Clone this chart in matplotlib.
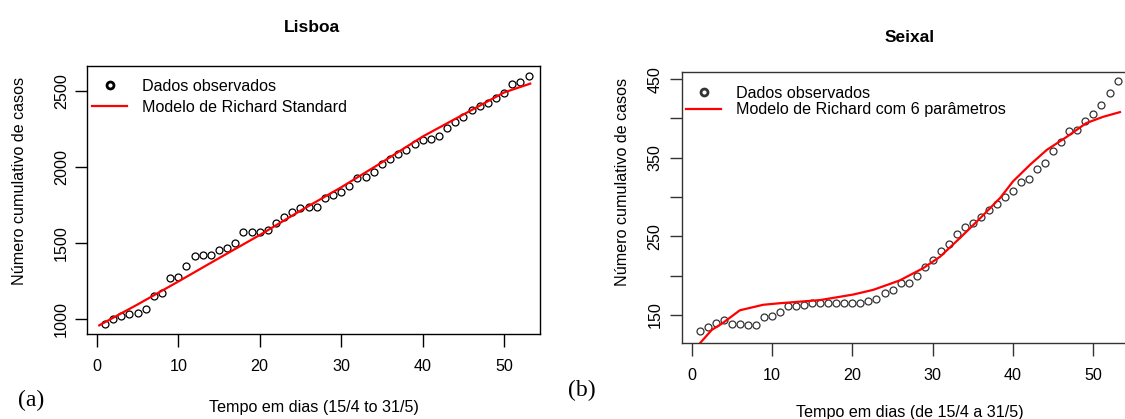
import matplotlib
matplotlib.use("Agg")
import matplotlib.pyplot as plt
from matplotlib.ticker import FixedLocator, FixedFormatter

plt.rcParams['font.family'] = ['Liberation Sans', 'DejaVu Sans']

# Lisboa: observed cumulative cases per day
dias_lx = list(range(1, 54))
obs_lx = [965, 1002, 1022, 1035, 1040, 1064, 1151, 1173, 1268, 1274,
          1351, 1412, 1419, 1419, 1452, 1465, 1502, 1570, 1570, 1570,
          1583, 1629, 1673, 1706, 1728, 1739, 1739, 1794, 1816, 1838,
          1877, 1925, 1936, 1967, 2020, 2050, 2083, 2110, 2151, 2178,
          2182, 2206, 2254, 2294, 2331, 2373, 2404, 2419, 2452, 2487,
          2544, 2557, 2599]
# Richard standard model (read at a few days)
mod_lx_t = [0.3, 5, 10, 15, 20, 25, 30, 35, 40, 45, 50, 53.2]
mod_lx_y = [958, 1095, 1246, 1400, 1552, 1712, 1866, 2030, 2200, 2345, 2490, 2548]

# Seixal
dias_sx = list(range(1, 54))
obs_sx = [130, 135, 140, 144, 138, 139, 137, 137, 148, 148.5,
          154, 161, 162, 163, 165, 165, 165, 165, 165, 165,
          165, 167.5, 170, 178, 182, 191, 191, 199, 211, 220,
          232, 240, 253, 262, 267, 275, 283, 291, 300, 307.5,
          318.5, 323, 335.5, 343, 359, 369.4, 384.3, 385, 397, 405,
          417, 432.6, 447]
mod_sx_t = [0.5, 2.5, 3.9, 6, 8.9, 11, 16, 20.1, 22.6, 25.9, 28.8, 30.9,
            33.4, 35.9, 38.4, 40, 42.1, 44.2, 46.6, 49.1, 51.2, 53.3]
mod_sx_y = [108, 131, 140, 156, 163, 165, 169, 176, 182, 194, 209.5, 224,
            248, 273, 299, 320, 341, 360, 376, 394, 402, 408]

W, H = 1125, 419
FS = 11.6
fig = plt.figure(figsize=(W / 100, H / 100), dpi=100)


def box(l, t, r, b):
    return [l / W, 1 - b / H, (r - l) / W, (b - t) / H]


def style(ax, col, ypad):
    for s in ax.spines.values():
        s.set_color(col)
        s.set_linewidth(1.0)
    ax.tick_params(direction='out', length=9, width=1.0, color=col,
                   labelsize=FS)
    ax.tick_params(axis='x', pad=9)
    ax.tick_params(axis='y', pad=ypad)
    for lab in ax.get_yticklabels():
        lab.set_rotation(90)
        lab.set_va('center')


# (a) Lisboa
ax1 = fig.add_axes(box(87, 66, 540, 334))
ax1.plot(dias_lx, obs_lx, 'o', mfc='none', mec='black', ms=5, mew=0.9,
         label='Dados observados')
ax1.plot(mod_lx_t, mod_lx_y, '-', color='red', lw=1.6,
         label='Modelo de Richard Standard')
ax1.set_xlim(-1.2, 54.4)
ax1.set_ylim(901, 2664)
ax1.set_xticks([0, 10, 20, 30, 40, 50])
ax1.set_yticks([1000, 1500, 2000, 2500])
style(ax1, 'black', 4)
ax1.set_xlabel('Tempo em dias (15/4 to 31/5)', fontsize=FS)
ax1.xaxis.set_label_coords(0.5, -0.246)
ax1.set_ylabel('Número cumulativo de casos', fontsize=FS)
ax1.yaxis.set_label_coords(-0.132, 0.57)
leg1 = ax1.legend(loc='upper left', frameon=False, fontsize=FS,
                  bbox_to_anchor=(0.011, 0.951), handlelength=2.2,
                  handletextpad=0.93, borderaxespad=0, borderpad=0,
                  labelspacing=0.35)
leg1.legend_handles[0].set_markeredgewidth(2)

# (b) Seixal
gray = '#333333'
ax2 = fig.add_axes(box(682, 72, 1128, 343))
ax2.plot(dias_sx, obs_sx, 'o', mfc='none', mec=gray, ms=5, mew=0.9,
         label='Dados observados')
ax2.plot(mod_sx_t, mod_sx_y, '-', color='red', lw=1.6,
         label='Modelo de Richard com 6 parâmetros')
ax2.set_xlim(-1.2, 54.3)
ax2.set_ylim(114.4, 459)
ax2.set_xticks([0, 10, 20, 30, 40, 50])
ax2.yaxis.set_major_locator(FixedLocator([150, 200, 250, 300, 350, 400, 450]))
ax2.yaxis.set_major_formatter(FixedFormatter(['150', '', '250', '', '350', '', '450']))
style(ax2, gray, 5)
ax2.set_xlabel('Tempo em dias (de 15/4 a 31/5)', fontsize=FS)
ax2.xaxis.set_label_coords(0.511, -0.229)
ax2.set_ylabel('Número cumulativo de casos', fontsize=FS)
ax2.yaxis.set_label_coords(-0.117, 0.594)
leg2 = ax2.legend(loc='upper left', frameon=False, fontsize=FS,
                  bbox_to_anchor=(0.009, 0.949), handlelength=2.2,
                  handletextpad=0.93, borderaxespad=0, borderpad=0,
                  labelspacing=0.1)
leg2.legend_handles[0].set_markeredgewidth(2)

fig.text(312 / W, 1 - 28 / H, 'Lisboa', ha='center', va='center',
         fontsize=12.5, fontweight='bold')
fig.text(910 / W, 1 - 38 / H, 'Seixal', ha='center', va='center',
         fontsize=12.5, fontweight='bold')
fig.text(31 / W, 1 - 400 / H, '(a)', ha='center', va='center',
         fontsize=17, family=['Liberation Serif', 'DejaVu Serif'])
fig.text(582 / W, 1 - 390 / H, '(b)', ha='center', va='center',
         fontsize=17, family=['Liberation Serif', 'DejaVu Serif'])

fig.savefig('out.png', dpi=100)
